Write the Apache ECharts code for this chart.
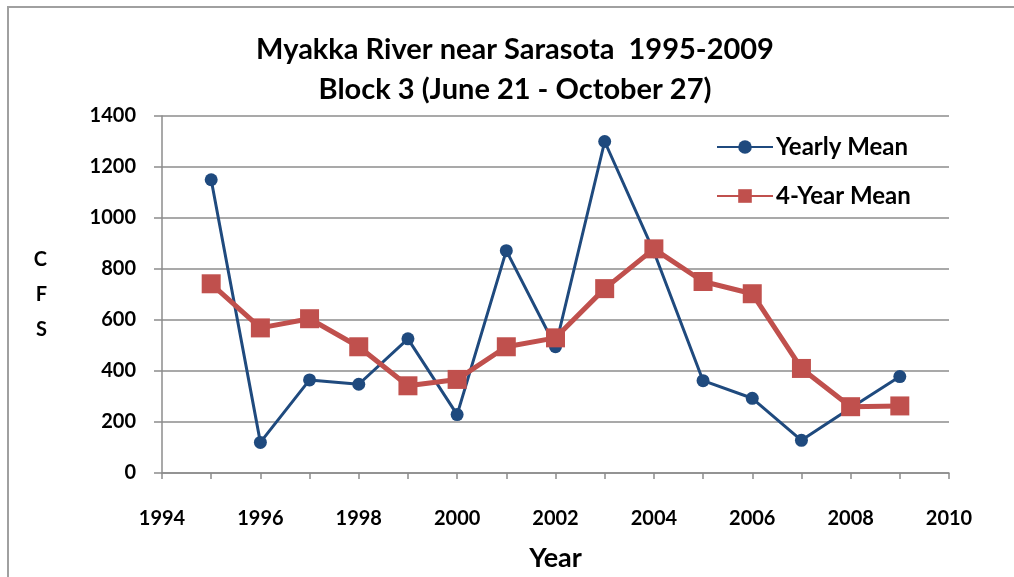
<!DOCTYPE html>
<html>
<head>
<meta charset="utf-8">
<script src="https://cdn.jsdelivr.net/npm/echarts@6/dist/echarts.min.js"></script>
<style>
  html, body { margin: 0; padding: 0; background: #fff; }
  #chart { width: 1014px; height: 577px; }
</style>
</head>
<body>
<div id="chart"></div>
<script>
// Flow at Myakka River near Sarasota, Block 3 (June 21 - October 27)
const years = [1995, 1996, 1997, 1998, 1999, 2000, 2001, 2002, 2003, 2004, 2005, 2006, 2007, 2008, 2009];
const yearlyMean = [1150, 120, 365, 348, 526, 229, 872, 495, 1300, 868, 362, 293, 128, 255, 378];
const fourYearMean = [742, 569, 605, 495, 342, 367, 495, 530, 723, 879, 751, 703, 410, 260, 263];
const titleLines = ['Myakka River near Sarasota  1995-2009', 'Block 3 (June 21 - October 27)'];
const seriesNames = ['Yearly Mean', '4-Year Mean'];

const FONT = 'Lato, "Open Sans", sans-serif';
const BLUE = '#1f4a7e';
const RED = '#c0504d';
const GRID = '#8c8c8c';

const titleStyle = { fontFamily: FONT, fontWeight: 'bold', fontSize: 29, color: '#000' };

const chart = echarts.init(document.getElementById('chart'));

chart.setOption({
  animation: false,
  backgroundColor: '#fff',
  title: titleLines.map((t, i) => ({
    text: t,
    left: 510,
    top: 30 + i * 40,
    textAlign: 'center',
    textStyle: titleStyle
  })),
  legend: {
    orient: 'vertical',
    left: 711,
    top: 130,
    itemGap: 25,
    itemWidth: 56,
    itemHeight: 17,
    textStyle: { fontFamily: FONT, fontWeight: 'bold', fontSize: 24, color: '#000', padding: [0, 0, 0, -2] },
    data: seriesNames
  },
  grid: { left: 162, right: 65, top: 116, bottom: 104, containLabel: false, outerBoundsMode: 'none' },
  xAxis: {
    type: 'value',
    min: 1994,
    max: 2010,
    interval: 1,
    name: 'Year',
    nameLocation: 'middle',
    nameGap: 72,
    nameTextStyle: { fontFamily: FONT, fontWeight: 'bold', fontSize: 27, color: '#000' },
    axisLine: { show: true, lineStyle: { color: GRID, width: 1.5 } },
    axisTick: { show: true, length: 6, lineStyle: { color: GRID, width: 1.5 } },
    splitLine: { show: false },
    axisLabel: {
      margin: 36,
      fontFamily: FONT, fontWeight: 'bold', fontSize: 20, color: '#000',
      formatter: v => (v % 2 === 0 ? String(v) : '')
    }
  },
  yAxis: {
    type: 'value',
    min: 0,
    max: 1400,
    interval: 200,
    name: 'C\nF\nS',
    nameLocation: 'middle',
    nameRotate: 0,
    nameGap: 115,
    nameTextStyle: { fontFamily: FONT, fontWeight: 'bold', fontSize: 20, color: '#000', lineHeight: 35 },
    axisLine: { show: true, lineStyle: { color: GRID, width: 1.5 } },
    axisTick: { show: true, length: 8, lineStyle: { color: GRID, width: 1.5 } },
    splitLine: { show: true, lineStyle: { color: GRID, width: 1.5 } },
    axisLabel: {
      margin: 26,
      fontFamily: FONT, fontWeight: 'bold', fontSize: 20, color: '#000',
      formatter: v => String(v)
    }
  },
  graphic: [
    {
      type: 'polyline',
      shape: { points: [[8, 577], [8, 7], [1014, 7]] },
      style: { stroke: '#a0a0a0', lineWidth: 2, fill: null },
      silent: true
    }
  ],
  series: [
    {
      name: seriesNames[0],
      type: 'line',
      data: years.map((y, i) => [y, yearlyMean[i]]),
      symbol: 'circle',
      symbolSize: 13,
      lineStyle: { color: BLUE, width: 3 },
      itemStyle: { color: BLUE },
      z: 2
    },
    {
      name: seriesNames[1],
      type: 'line',
      data: years.map((y, i) => [y, fourYearMean[i]]),
      symbol: 'rect',
      symbolSize: 19,
      lineStyle: { color: RED, width: 5 },
      itemStyle: { color: RED },
      z: 3
    }
  ]
});
</script>
</body>
</html>
